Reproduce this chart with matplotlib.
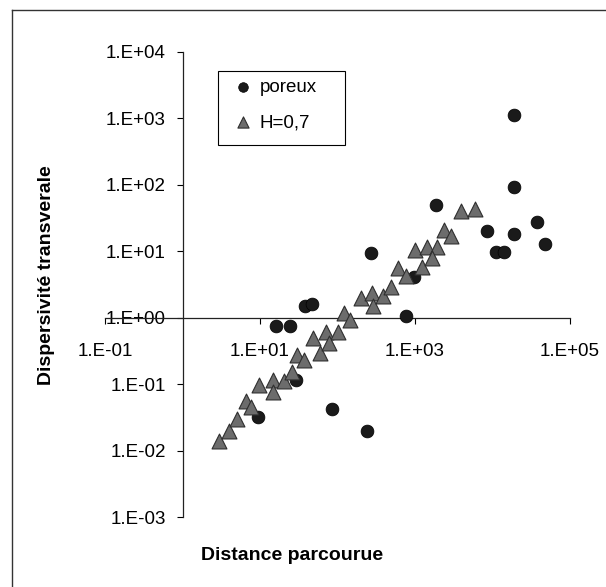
import numpy as np
import matplotlib
matplotlib.use("Agg")
import matplotlib.pyplot as plt
from matplotlib.ticker import FixedLocator, FuncFormatter, NullLocator
from matplotlib.lines import Line2D
from matplotlib.patches import Rectangle

plt.rcParams['font.family'] = ['Liberation Sans', 'DejaVu Sans']

# poreux (circles)
poreux_x = [19000, 19000, 1860, 270, 8500, 19000, 38000, 48000, 11200, 14100,
            980, 776, 38, 47, 16.2, 24.5, 29, 9.5, 85, 240]
poreux_y = [1120, 93, 49, 9.3, 20, 18, 27.5, 12.9, 9.8, 9.8,
            4.1, 1.07, 1.5, 1.6, 0.76, 0.76, 0.115, 0.032, 0.042, 0.020]

# H=0,7 (triangles)
h07_x = [3.0, 4.0, 5.1, 6.5, 7.6, 9.8, 14.8, 14.8, 20.4, 25.7,
         30.2, 37, 59, 49, 72, 100, 78, 120, 145, 200,
         282, 288, 389, 490, 603, 776, 1230, 1000, 1410, 1900,
         1660, 2340, 2950, 3890, 5890]
h07_y = [0.014, 0.020, 0.030, 0.055, 0.045, 0.098, 0.117, 0.076, 0.11, 0.15,
         0.275, 0.234, 0.295, 0.49, 0.60, 0.60, 0.42, 1.17, 0.93, 1.95,
         2.34, 1.48, 2.09, 2.95, 5.6, 4.2, 5.75, 10.5, 11.5, 11.5,
         7.9, 20.9, 17, 39.8, 42.7]

x_ticks = [1e-1, 1e1, 1e3, 1e5]
y_ticks = [1e-3, 1e-2, 1e-1, 1e0, 1e1, 1e2, 1e3, 1e4]


def sci(v, pos):
    e = int(round(np.log10(v)))
    return f"1.E{e:+03d}"


fig = plt.figure(figsize=(6.06, 5.87), dpi=100)
W, H = 606, 587
AL, AT, AW, AH = 105, 52, 465, 465
ax = fig.add_axes([AL / W, (H - AT - AH) / H, AW / W, AH / H])

ax.scatter(poreux_x, poreux_y, s=85, marker='o', color='#1a1a1a',
           edgecolors='black', linewidths=0.5, label='poreux', zorder=3, clip_on=False)
ax.scatter(h07_x, h07_y, s=115, marker='^', color='#6c6c6c',
           edgecolors='#2e2e2e', linewidths=0.8, label='H=0,7', zorder=4, clip_on=False)

ax.set_xscale('log')
ax.set_yscale('log')
ax.set_xlim(1e-1, 1e5)
ax.set_ylim(1e-3, 1e4)

for s in ['top', 'right']:
    ax.spines[s].set_visible(False)
ax.spines['left'].set_position(('data', 1))
ax.spines['bottom'].set_position(('data', 1))
for s in ['left', 'bottom']:
    ax.spines[s].set_color('#222222')
    ax.spines[s].set_linewidth(0.9)

ax.xaxis.set_major_locator(FixedLocator(x_ticks))
ax.yaxis.set_major_locator(FixedLocator(y_ticks))
ax.xaxis.set_minor_locator(NullLocator())
ax.yaxis.set_minor_locator(NullLocator())
ax.xaxis.set_major_formatter(FuncFormatter(sci))
ax.yaxis.set_major_formatter(FuncFormatter(sci))
ax.tick_params(axis='x', direction='out', length=4, width=0.8, pad=14, labelsize=13.5)
ax.tick_params(axis='y', direction='out', length=4, width=0.8, pad=8, labelsize=13.5)
ax.patch.set_alpha(0)

# legend box drawn by hand, legend entries placed inside it
ax.add_patch(Rectangle(((218 - AL) / AW, 1 - (145 - AT) / AH), 127 / AW, 74 / AH,
                       transform=ax.transAxes, facecolor='white', edgecolor='black',
                       lw=0.8, zorder=5, clip_on=False))
leg = ax.legend(loc='upper left', bbox_to_anchor=((234 - AL) / AW, 1 - (79 - AT) / AH),
                borderaxespad=0, borderpad=0, fontsize=13.5, markerscale=0.75,
                handlelength=1.0, handletextpad=0.35, labelspacing=0.95, frameon=False)
leg.set_zorder(6)

fig.text(292 / W, 1 - 555 / H, 'Distance parcourue', ha='center', va='center',
         fontsize=14, fontweight='bold')
fig.text(47 / W, 1 - 275 / H, 'Dispersivité transverale', ha='center', va='center',
         rotation=90, fontsize=14, fontweight='bold')

# chart area border
fig.add_artist(Line2D([12 / W, 12 / W], [0, 1 - 10 / H], color='#333333', lw=1))
fig.add_artist(Line2D([12 / W, 1], [1 - 10 / H, 1 - 10 / H], color='#333333', lw=1))

fig.savefig('out.png', dpi=100)
